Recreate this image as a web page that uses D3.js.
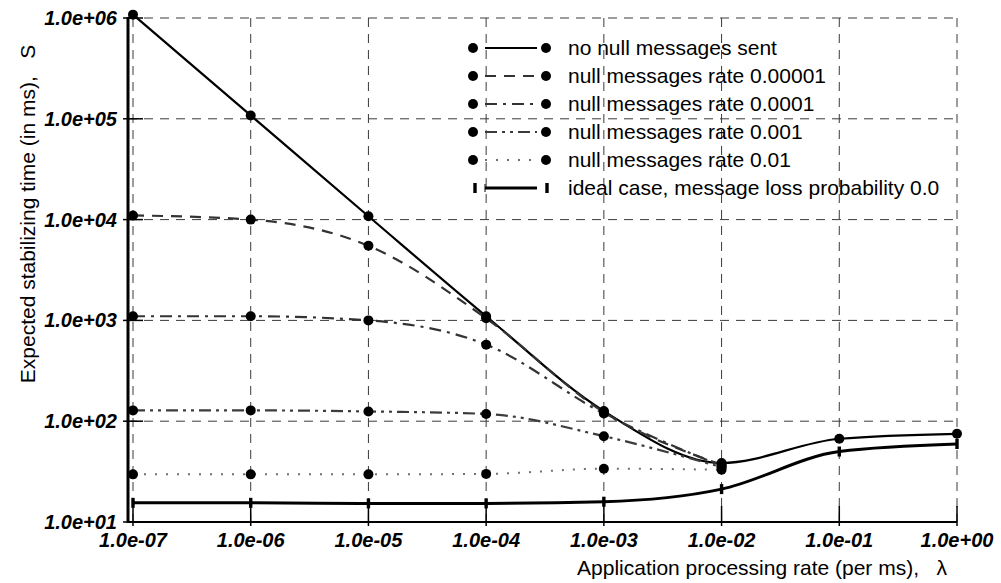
<!DOCTYPE html>
<html>
<head>
  <title>Expected stabilizing time</title>
  <script src="https://d3js.org/d3.v7.min.js"></script>
  <style>
    body { margin: 0; background: #fff; }
    text { font-family: "Liberation Sans", Arial, sans-serif; }
  </style>
</head>
<body>
<script type="text/javascript">

// ****** DATA ******

  // application processing rate (per ms)
  var rates = [1e-7, 1e-6, 1e-5, 1e-4, 1e-3, 1e-2, 1e-1, 1e0];
  var rateLabels = ["1.0e-07", "1.0e-06", "1.0e-05", "1.0e-04", "1.0e-03", "1.0e-02", "1.0e-01", "1.0e+00"];
  var timeTicks = [1e1, 1e2, 1e3, 1e4, 1e5, 1e6];
  var timeLabels = ["1.0e+01", "1.0e+02", "1.0e+03", "1.0e+04", "1.0e+05", "1.0e+06"];

  // expected stabilizing time (ms), one list per curve
  var noNull   = [1.08e6, 1.08e5, 1.08e4, 1.1e3, 126, 38.5, 67, 75];
  var null1e5  = [1.1e4, 1.0e4, 5.5e3, 1.05e3, 123, 37];
  var null1e4  = [1.1e3, 1.1e3, 1.0e3, 575, 119, 36];
  var null1e3  = [128, 128, 125, 118, 71, 35];
  var null1e2  = [29.7, 29.7, 29.7, 30, 33.8, 33];
  var ideal    = [15.5, 15.5, 15.3, 15.3, 15.9, 21.2, 50, 59.4];

  var seriesNames = ["no null messages sent", "null messages rate 0.00001", "null messages rate 0.0001",
                     "null messages rate 0.001", "null messages rate 0.01", "ideal case, message loss probability 0.0"];
  var seriesValues = [noNull, null1e5, null1e4, null1e3, null1e2, ideal];

// ****** LOOKS ******

  var width = 1001,
      height = 583;
  var dashes = [null, "11,8", "12,6,3,6", "12,5,3,5,3,5", "2,9", null];
  var colors = ["#000", "#333", "#333", "#3c3c3c", "#707070", "#000"];
  var widths = [2.2, 2.2, 2.2, 2.2, 2, 3];

  var x = d3.scaleLog().domain([1e-7, 1e0]).range([133, 957]);
  var y = d3.scaleLog().domain([1e1, 1e6]).range([522, 18]);

// ****** CREATE ELEMENTS ******

  var svg = d3.select("body")
    .append("svg")
    .attr("width", width)
    .attr("height", height);

  // dashed grid
  svg.append("g")
    .selectAll("line")
    .data(rates)
    .enter()
    .append("line")
    .attr("x1", function (d) { return x(d); })
    .attr("x2", function (d) { return x(d); })
    .attr("y1", y(1e6))
    .attr("y2", y(1e1))
    .style("stroke", "#3a3a3a")
    .style("stroke-dasharray", "9,7");

  svg.append("g")
    .selectAll("line")
    .data(timeTicks.slice(1))
    .enter()
    .append("line")
    .attr("x1", 128)
    .attr("x2", x(1e0))
    .attr("y1", function (d) { return y(d); })
    .attr("y2", function (d) { return y(d); })
    .style("stroke", "#3a3a3a")
    .style("stroke-dasharray", "9,7");

  // axes drawn by hand, ticks cross the axis line
  svg.append("line")
    .attr("x1", 128).attr("x2", 128)
    .attr("y1", y(1e6) - 1).attr("y2", y(1e1) + 1)
    .style("stroke", "#000").style("stroke-width", 3);
  svg.append("line")
    .attr("x1", 127).attr("x2", x(1e0))
    .attr("y1", y(1e1)).attr("y2", y(1e1))
    .style("stroke", "#000").style("stroke-width", 2);

  svg.append("g")
    .selectAll("line")
    .data(timeTicks)
    .enter()
    .append("line")
    .attr("x1", 123).attr("x2", 143)
    .attr("y1", function (d) { return y(d); })
    .attr("y2", function (d) { return y(d); })
    .style("stroke", "#000").style("stroke-width", 1.5);

  svg.append("g")
    .selectAll("line")
    .data(rates)
    .enter()
    .append("line")
    .attr("x1", function (d) { return x(d); })
    .attr("x2", function (d) { return x(d); })
    .attr("y1", y(1e1) - 16).attr("y2", y(1e1) + 4)
    .style("stroke", "#000").style("stroke-width", 1.5);

  // tick labels
  svg.append("g")
    .selectAll("text")
    .data(timeTicks)
    .enter()
    .append("text")
    .attr("x", 117)
    .attr("y", function (d) { return y(d) + 7; })
    .attr("text-anchor", "end")
    .style("font-size", "20px")
    .style("font-weight", "bold")
    .style("font-style", "italic")
    .text(function (d, i) { return timeLabels[i]; });

  svg.append("g")
    .selectAll("text")
    .data(rates)
    .enter()
    .append("text")
    .attr("x", function (d) { return x(d); })
    .attr("y", 547)
    .attr("text-anchor", "middle")
    .style("font-size", "20px")
    .style("font-weight", "bold")
    .style("font-style", "italic")
    .text(function (d, i) { return rateLabels[i]; });

  // axis titles
  svg.append("text")
    .attr("x", 947)
    .attr("y", 575)
    .attr("text-anchor", "end")
    .style("font-size", "21px")
    .style("white-space", "pre")
    .text("Application processing rate (per ms),   \u03bb");

  svg.append("text")
    .attr("transform", "translate(35,214) rotate(-90)")
    .attr("text-anchor", "middle")
    .style("font-size", "21px")
    .style("white-space", "pre")
    .text("Expected stabilizing time (in ms),   S");

  // curves
  var line = d3.line()
    .x(function (d, i) { return x(rates[i]); })
    .y(function (d) { return y(d); })
    .curve(d3.curveMonotoneX);

  var curves = svg.append("g");
  seriesValues.forEach(function (vals, s) {
    curves.append("path")
      .attr("d", line(vals))
      .style("fill", "none")
      .style("stroke", colors[s])
      .style("stroke-width", widths[s])
      .style("stroke-dasharray", dashes[s]);
  });

  // markers: dots for the null message curves, bars for the ideal case
  seriesValues.forEach(function (vals, s) {
    var g = svg.append("g");
    if (s === 5) {
      g.selectAll("rect")
        .data(vals)
        .enter()
        .append("rect")
        .attr("x", function (d, i) { return x(rates[i]) - 1.7; })
        .attr("y", function (d) { return y(d) - 5; })
        .attr("width", 3.4)
        .attr("height", 10)
        .style("fill", "#000");
    } else {
      g.selectAll("circle")
        .data(vals)
        .enter()
        .append("circle")
        .attr("cx", function (d, i) { return x(rates[i]); })
        .attr("cy", function (d) { return y(d); })
        .attr("r", 5)
        .style("fill", "#000");
    }
  });

// ****** LEGEND ******

  var legend = svg.append("g")
    .selectAll("g")
    .data(seriesNames)
    .enter()
    .append("g")
    .attr("transform", function (d, i) { return "translate(0," + (48 + i * 28) + ")"; });

  legend.append("line")
    .attr("x1", 485).attr("x2", 537)
    .attr("y1", 0).attr("y2", 0)
    .style("stroke", function (d, i) { return colors[i]; })
    .style("stroke-width", function (d, i) { return widths[i]; })
    .style("stroke-dasharray", function (d, i) { return dashes[i]; });

  legend.each(function (d, i) {
    var g = d3.select(this);
    if (i === 5) {
      [475, 547].forEach(function (cx) {
        g.append("rect").attr("x", cx - 1.7).attr("y", -5).attr("width", 3.4).attr("height", 10).style("fill", "#000");
      });
      g.append("line").attr("x1", 485).attr("x2", 485).attr("y1", -4).attr("y2", 4).style("stroke", "#000");
    } else {
      [473, 546].forEach(function (cx) {
        g.append("circle").attr("cx", cx).attr("cy", 0).attr("r", 5).style("fill", "#000");
      });
    }
  });

  legend.append("text")
    .attr("x", 568)
    .attr("y", 7)
    .style("font-size", "21px")
    .text(function (d) { return d; });

</script>
</body>
</html>
